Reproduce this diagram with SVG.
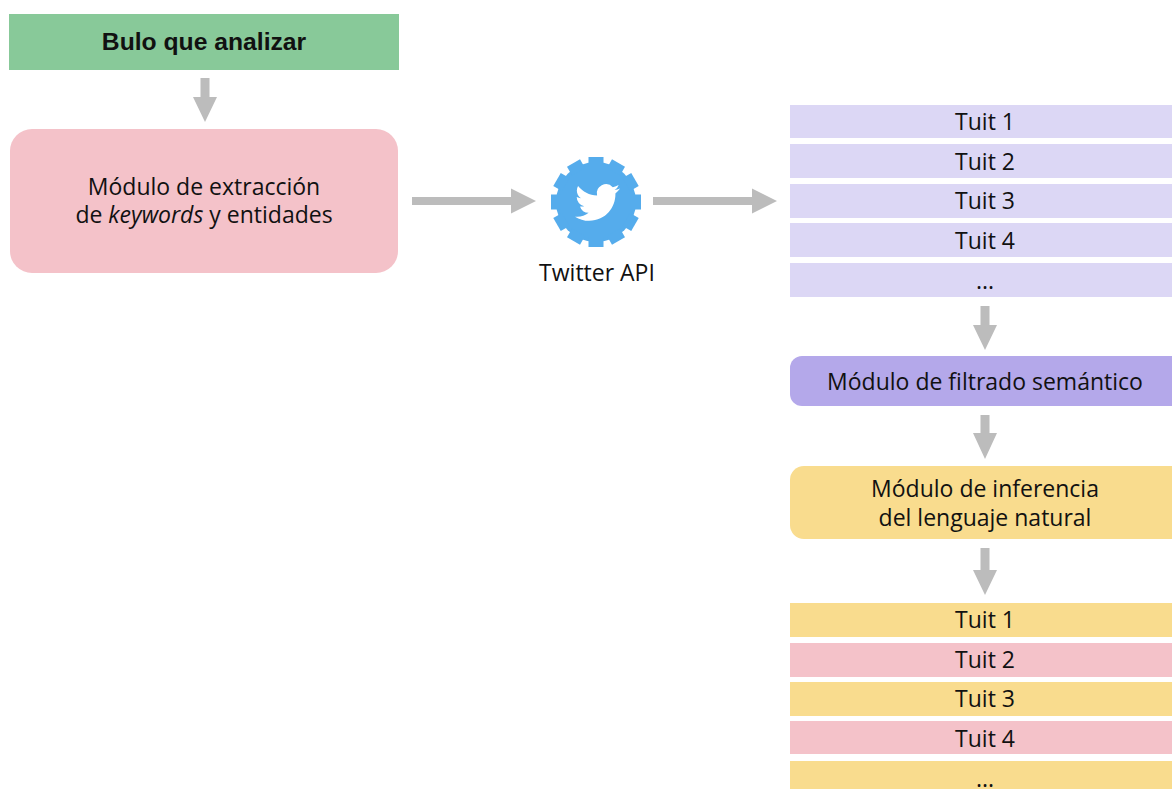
<svg xmlns="http://www.w3.org/2000/svg" width="1172" height="789" viewBox="0 0 1172 789">
<style>
text{font-family:"Open Sans","Liberation Sans",sans-serif;fill:#111;text-anchor:middle;font-size:23px}
.b{font-family:"Liberation Sans",Arial,sans-serif;font-weight:bold;font-size:24.7px}
.arrow{fill:#bcbcbc}
.lav{fill:#dcd7f5}
.yel{fill:#f9dc8e}
.pink{fill:#f4c2c9}
</style>
<rect width="1172" height="789" fill="#fff"/>
<g id="connectors">
<polygon class="arrow" points="200.5,78 209.5,78 209.5,97 217,97 205,122 193,97 200.5,97"/>
<polygon class="arrow" points="412,197 511,197 511,188.5 536,201 511,213.5 511,205 412,205"/>
<polygon class="arrow" points="653,197 752,197 752,188.5 777,201 752,213.5 752,205 653,205"/>
<polygon class="arrow" points="980.5,306 989.5,306 989.5,325 997,325 985,350 973,325 980.5,325"/>
<polygon class="arrow" points="980.5,415 989.5,415 989.5,433 997,433 985,459 973,433 980.5,433"/>
<polygon class="arrow" points="980.5,548 989.5,548 989.5,570 997,570 985,595 973,570 980.5,570"/>
</g>
<g id="bulo">
<rect x="9" y="14" width="390" height="56" fill="#88c999"/>
<text class="b" x="204" y="50">Bulo que analizar</text>
</g>
<g id="extraccion">
<rect x="10" y="129" width="388" height="144" rx="22" class="pink"/>
<text x="204" y="195">Módulo de extracción</text>
<text x="204" y="223">de <tspan font-style="italic">keywords</tspan> y entidades</text>
</g>
<g id="twitter-api">
<g transform="translate(596,202)" fill="#55acec">
<circle r="40"/>
<g id="tooth"><rect x="-7.5" y="-45" width="15" height="10"/></g>
<use href="#tooth" transform="rotate(30)"/>
<use href="#tooth" transform="rotate(60)"/>
<use href="#tooth" transform="rotate(90)"/>
<use href="#tooth" transform="rotate(120)"/>
<use href="#tooth" transform="rotate(150)"/>
<use href="#tooth" transform="rotate(180)"/>
<use href="#tooth" transform="rotate(210)"/>
<use href="#tooth" transform="rotate(240)"/>
<use href="#tooth" transform="rotate(270)"/>
<use href="#tooth" transform="rotate(300)"/>
<use href="#tooth" transform="rotate(330)"/>
</g>
<path transform="translate(575,180) scale(1.875)" fill="#fff" d="M23.953 4.57a10 10 0 01-2.825.775 4.958 4.958 0 002.163-2.723c-.951.555-2.005.959-3.127 1.184a4.920 4.920 0 00-8.384 4.482C7.690 8.095 4.067 6.130 1.640 3.162a4.822 4.822 0 00-.666 2.475c0 1.710.870 3.213 2.188 4.096a4.904 4.904 0 01-2.228-.616v.060a4.923 4.923 0 003.946 4.827 4.996 4.996 0 01-2.212.085 4.936 4.936 0 004.604 3.417 9.867 9.867 0 01-6.102 2.105c-.390 0-.779-.023-1.170-.067a13.995 13.995 0 007.557 2.209c9.053 0 13.998-7.496 13.998-13.985 0-.210 0-.420-.015-.630A9.935 9.935 0 0024 4.590z"/>
<text x="597" y="281">Twitter API</text>
</g>
<g id="tuits-in">
<rect class="lav" x="790" y="105" width="390" height="33"/>
<text x="985" y="130">Tuit 1</text>
<rect class="lav" x="790" y="144" width="390" height="34"/>
<text x="985" y="170">Tuit 2</text>
<rect class="lav" x="790" y="184" width="390" height="34"/>
<text x="985" y="209">Tuit 3</text>
<rect class="lav" x="790" y="223" width="390" height="34"/>
<text x="985" y="249">Tuit 4</text>
<rect class="lav" x="790" y="263" width="390" height="34"/>
<text x="985" y="289">...</text>
</g>
<g id="filtrado">
<rect x="790" y="356" width="400" height="50" rx="12" fill="#b4a8ea"/>
<text x="985" y="390">Módulo de filtrado semántico</text>
</g>
<g id="inferencia">
<rect x="790" y="466" width="400" height="73" rx="14" class="yel"/>
<text x="985" y="497">Módulo de inferencia</text>
<text x="985" y="526">del lenguaje natural</text>
</g>
<g id="tuits-out">
<rect class="yel" x="790" y="603" width="390" height="34"/>
<text x="985" y="628">Tuit 1</text>
<rect class="pink" x="790" y="643" width="390" height="34"/>
<text x="985" y="668">Tuit 2</text>
<rect class="yel" x="790" y="682" width="390" height="34"/>
<text x="985" y="707">Tuit 3</text>
<rect class="pink" x="790" y="721" width="390" height="33"/>
<text x="985" y="747">Tuit 4</text>
<rect class="yel" x="790" y="761" width="390" height="40"/>
<text x="985" y="787">...</text>
</g>
</svg>
